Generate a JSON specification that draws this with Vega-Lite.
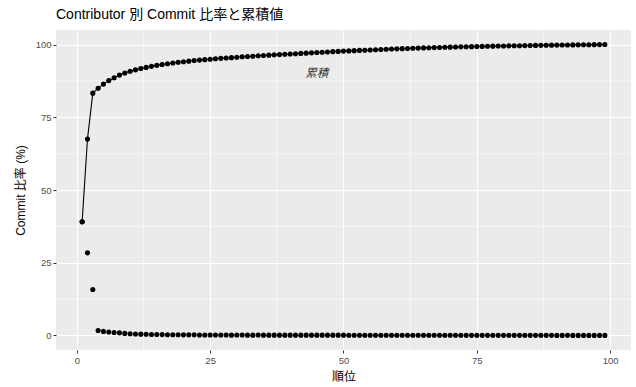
{
  "$schema": "https://vega.github.io/schema/vega-lite/v6.json",
  "width": 575,
  "height": 320,
  "autosize": {"type": "none"},
  "padding": {"left": 56, "top": 30, "right": 5, "bottom": 37},
  "background": "white",
  "title": {
    "text": "Contributor 別 Commit 比率と累積値",
    "anchor": "start",
    "frame": "group",
    "fontSize": 14,
    "fontWeight": "normal",
    "color": "black",
    "font": "Liberation Sans, Noto Sans CJK JP",
    "offset": 8
  },
  "config": {
    "view": {"fill": "#EBEBEB", "stroke": null},
    "font": "Liberation Sans, Noto Sans CJK JP",
    "axis": {
      "domain": false,
      "grid": true,
      "gridColor": "white",
      "gridWidth": 1.1,
      "tickColor": "#333333",
      "tickSize": 3,
      "tickWidth": 1,
      "labelColor": "#4D4D4D",
      "labelFontSize": 9.5,
      "labelFont": "Liberation Sans, Noto Sans CJK JP",
      "titleFont": "Liberation Sans, Noto Sans CJK JP",
      "titleFontSize": 12,
      "titleFontWeight": "normal",
      "titleColor": "black",
      "labelPadding": 2
    }
  },
  "datasets": {
    "ranks": [
      {"rank": 1, "share": 39.1, "cum": 39.1},
      {"rank": 2, "share": 28.4, "cum": 67.5},
      {"rank": 3, "share": 15.8, "cum": 83.3},
      {"rank": 4, "share": 1.7, "cum": 85.0},
      {"rank": 5, "share": 1.4, "cum": 86.4},
      {"rank": 6, "share": 1.2, "cum": 87.6},
      {"rank": 7, "share": 1.0, "cum": 88.6},
      {"rank": 8, "share": 0.9, "cum": 89.5},
      {"rank": 9, "share": 0.7, "cum": 90.2},
      {"rank": 10, "share": 0.6, "cum": 90.8},
      {"rank": 11, "share": 0.5, "cum": 91.3},
      {"rank": 12, "share": 0.45, "cum": 91.75},
      {"rank": 13, "share": 0.4, "cum": 92.15},
      {"rank": 14, "share": 0.35, "cum": 92.5},
      {"rank": 15, "share": 0.35, "cum": 92.85},
      {"rank": 16, "share": 0.3, "cum": 93.15},
      {"rank": 17, "share": 0.25, "cum": 93.4},
      {"rank": 18, "share": 0.25, "cum": 93.65},
      {"rank": 19, "share": 0.25, "cum": 93.9},
      {"rank": 20, "share": 0.2, "cum": 94.1},
      {"rank": 21, "share": 0.2, "cum": 94.3},
      {"rank": 22, "share": 0.2, "cum": 94.5},
      {"rank": 23, "share": 0.15, "cum": 94.65},
      {"rank": 24, "share": 0.15, "cum": 94.8},
      {"rank": 25, "share": 0.15, "cum": 94.95},
      {"rank": 26, "share": 0.15, "cum": 95.1},
      {"rank": 27, "share": 0.15, "cum": 95.25},
      {"rank": 28, "share": 0.15, "cum": 95.4},
      {"rank": 29, "share": 0.1, "cum": 95.5},
      {"rank": 30, "share": 0.15, "cum": 95.65},
      {"rank": 31, "share": 0.15, "cum": 95.8},
      {"rank": 32, "share": 0.1, "cum": 95.9},
      {"rank": 33, "share": 0.1, "cum": 96.0},
      {"rank": 34, "share": 0.15, "cum": 96.15},
      {"rank": 35, "share": 0.1, "cum": 96.25},
      {"rank": 36, "share": 0.1, "cum": 96.35},
      {"rank": 37, "share": 0.1, "cum": 96.45},
      {"rank": 38, "share": 0.1, "cum": 96.55},
      {"rank": 39, "share": 0.1, "cum": 96.65},
      {"rank": 40, "share": 0.1, "cum": 96.75},
      {"rank": 41, "share": 0.1, "cum": 96.85},
      {"rank": 42, "share": 0.1, "cum": 96.95},
      {"rank": 43, "share": 0.1, "cum": 97.05},
      {"rank": 44, "share": 0.1, "cum": 97.15},
      {"rank": 45, "share": 0.1, "cum": 97.25},
      {"rank": 46, "share": 0.1, "cum": 97.35},
      {"rank": 47, "share": 0.1, "cum": 97.45},
      {"rank": 48, "share": 0.1, "cum": 97.55},
      {"rank": 49, "share": 0.1, "cum": 97.65},
      {"rank": 50, "share": 0.1, "cum": 97.75},
      {"rank": 51, "share": 0.07, "cum": 97.82},
      {"rank": 52, "share": 0.08, "cum": 97.9},
      {"rank": 53, "share": 0.08, "cum": 97.98},
      {"rank": 54, "share": 0.08, "cum": 98.06},
      {"rank": 55, "share": 0.08, "cum": 98.14},
      {"rank": 56, "share": 0.08, "cum": 98.22},
      {"rank": 57, "share": 0.08, "cum": 98.3},
      {"rank": 58, "share": 0.08, "cum": 98.38},
      {"rank": 59, "share": 0.07, "cum": 98.45},
      {"rank": 60, "share": 0.07, "cum": 98.52},
      {"rank": 61, "share": 0.07, "cum": 98.59},
      {"rank": 62, "share": 0.07, "cum": 98.66},
      {"rank": 63, "share": 0.06, "cum": 98.72},
      {"rank": 64, "share": 0.06, "cum": 98.78},
      {"rank": 65, "share": 0.06, "cum": 98.84},
      {"rank": 66, "share": 0.06, "cum": 98.9},
      {"rank": 67, "share": 0.05, "cum": 98.95},
      {"rank": 68, "share": 0.05, "cum": 99.0},
      {"rank": 69, "share": 0.05, "cum": 99.05},
      {"rank": 70, "share": 0.05, "cum": 99.1},
      {"rank": 71, "share": 0.05, "cum": 99.15},
      {"rank": 72, "share": 0.05, "cum": 99.2},
      {"rank": 73, "share": 0.04, "cum": 99.24},
      {"rank": 74, "share": 0.04, "cum": 99.28},
      {"rank": 75, "share": 0.04, "cum": 99.32},
      {"rank": 76, "share": 0.04, "cum": 99.36},
      {"rank": 77, "share": 0.04, "cum": 99.4},
      {"rank": 78, "share": 0.04, "cum": 99.44},
      {"rank": 79, "share": 0.04, "cum": 99.48},
      {"rank": 80, "share": 0.04, "cum": 99.52},
      {"rank": 81, "share": 0.03, "cum": 99.55},
      {"rank": 82, "share": 0.03, "cum": 99.58},
      {"rank": 83, "share": 0.03, "cum": 99.61},
      {"rank": 84, "share": 0.03, "cum": 99.64},
      {"rank": 85, "share": 0.03, "cum": 99.67},
      {"rank": 86, "share": 0.03, "cum": 99.7},
      {"rank": 87, "share": 0.03, "cum": 99.73},
      {"rank": 88, "share": 0.03, "cum": 99.76},
      {"rank": 89, "share": 0.03, "cum": 99.79},
      {"rank": 90, "share": 0.02, "cum": 99.81},
      {"rank": 91, "share": 0.02, "cum": 99.83},
      {"rank": 92, "share": 0.03, "cum": 99.86},
      {"rank": 93, "share": 0.02, "cum": 99.88},
      {"rank": 94, "share": 0.02, "cum": 99.9},
      {"rank": 95, "share": 0.02, "cum": 99.92},
      {"rank": 96, "share": 0.02, "cum": 99.94},
      {"rank": 97, "share": 0.02, "cum": 99.96},
      {"rank": 98, "share": 0.02, "cum": 99.98},
      {"rank": 99, "share": 0.02, "cum": 100.0}
    ],
    "minorX": [{"v": 12.5}, {"v": 37.5}, {"v": 62.5}, {"v": 87.5}],
    "minorY": [{"v": 12.5}, {"v": 37.5}, {"v": 62.5}, {"v": 87.5}],
    "note": [{"x": 45, "y": 90, "label": "累積"}]
  },
  "layer": [
    {
      "data": {"name": "minorX"},
      "mark": {"type": "rule", "color": "white", "strokeWidth": 0.55},
      "encoding": {
        "x": {"field": "v", "type": "quantitative", "scale": {"domain": [-3.9, 103.9], "nice": false, "zero": false}}
      }
    },
    {
      "data": {"name": "minorY"},
      "mark": {"type": "rule", "color": "white", "strokeWidth": 0.55},
      "encoding": {
        "y": {"field": "v", "type": "quantitative", "scale": {"domain": [-5, 105], "nice": false, "zero": false}}
      }
    },
    {
      "data": {"name": "ranks"},
      "mark": {"type": "line", "color": "black", "strokeWidth": 1.1},
      "encoding": {
        "x": {"field": "rank", "type": "quantitative", "title": "順位",
              "scale": {"domain": [-3.9, 103.9], "nice": false, "zero": false},
              "axis": {"values": [0, 25, 50, 75, 100], "titlePadding": 7}},
        "y": {"field": "cum", "type": "quantitative", "title": "Commit 比率 (%)",
              "scale": {"domain": [-5, 105], "nice": false, "zero": false},
              "axis": {"values": [0, 25, 50, 75, 100], "titlePadding": 8}}
      }
    },
    {
      "data": {"name": "ranks"},
      "mark": {"type": "point", "filled": true, "color": "black", "opacity": 1, "size": 26},
      "encoding": {
        "x": {"field": "rank", "type": "quantitative"},
        "y": {"field": "cum", "type": "quantitative"}
      }
    },
    {
      "data": {"name": "ranks"},
      "mark": {"type": "point", "filled": true, "color": "black", "opacity": 1, "size": 26},
      "encoding": {
        "x": {"field": "rank", "type": "quantitative"},
        "y": {"field": "share", "type": "quantitative"}
      }
    },
    {
      "data": {"name": "note"},
      "mark": {"type": "text", "fontStyle": "italic", "fontSize": 11.5, "color": "#333333", "align": "center", "baseline": "middle"},
      "encoding": {
        "x": {"field": "x", "type": "quantitative"},
        "y": {"field": "y", "type": "quantitative"},
        "text": {"field": "label"}
      }
    }
  ]
}
